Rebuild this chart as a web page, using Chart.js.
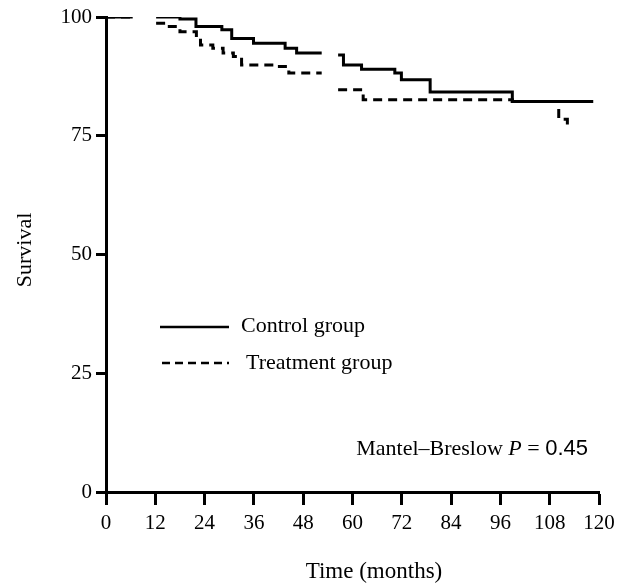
<!DOCTYPE html>
<html>
<head>
<meta charset="utf-8">
<script src="https://cdn.jsdelivr.net/npm/chart.js@4.4.1/dist/chart.umd.min.js"></script>
<style>
  html, body { margin: 0; padding: 0; background: #fff; }
  #wrap { width: 621px; height: 588px; position: relative; }
</style>
</head>
<body>
<div id="wrap"><canvas id="kmChart" width="621" height="588"></canvas></div>
<script>
// Kaplan-Meier steps (time in months, survival in %)
// null marks a break in the printed curve
const controlTimes    = [0, 6.5, 9, 12.2, 18, 21.9, 28.2, 30.6, 35.9, 43.6, 46.4, 52.5, 54, 56.5, 57.8, 62.2, 70.3, 71.9, 78.9, 98.9, 118.6];
const controlSurvival = [100, 100, null, 100, 99.6, 98, 97.3, 95.5, 94.5, 93.4, 92.4, 92.4, null, 92, 89.9, 89, 88.2, 86.8, 84.2, 82.2, 82.2];

const treatmentTimes    = [0, 6.5, 9, 12.2, 14.5, 18, 22, 23, 26, 28.5, 31, 33, 41, 44.5, 52.5, 54, 56.5, 62.6, 98.9, 110.2, 112.3];
const treatmentSurvival = [100, 100, null, 98.7, 98, 96.9, 95.5, 94.1, 93.4, 92.4, 91.7, 89.9, 89.6, 88.2, 88.2, null, 84.7, 82.6, 82.2, 78.5, 76.5];

const xTicks = [0, 12, 24, 36, 48, 60, 72, 84, 96, 108, 120];
const yTicks = [0, 25, 50, 75, 100];

const groupLabels = ['Control group', 'Treatment group'];
const xTitle = 'Time (months)';
const yTitle = 'Survival';
const testLabel = 'Mantel\u2013Breslow';
const pValue = '0.45';

const SERIF = '"Liberation Serif", "DejaVu Serif", serif';

function toPoints(times, values) {
    return times.map((t, i) => ({ x: t, y: values[i] }));
}

// axis titles, legend and test annotation
const annotations = {
    id: 'annotations',
    afterDraw(chart) {
        const ctx = chart.ctx;
        ctx.save();
        ctx.strokeStyle = '#000';
        ctx.fillStyle = '#000';
        ctx.textBaseline = 'middle';

        // axis titles
        ctx.font = '23px ' + SERIF;
        ctx.textAlign = 'center';
        ctx.fillText(xTitle, 374, 572);
        ctx.save();
        ctx.translate(25, 250);
        ctx.rotate(-Math.PI / 2);
        ctx.font = '22px ' + SERIF;
        ctx.fillText(yTitle, 0, 0);
        ctx.restore();

        // legend
        ctx.lineWidth = 2.5;
        ctx.beginPath();
        ctx.moveTo(160, 327);
        ctx.lineTo(229, 327);
        ctx.stroke();

        ctx.setLineDash([8, 5]);
        ctx.beginPath();
        ctx.moveTo(162, 363);
        ctx.lineTo(229, 363);
        ctx.stroke();
        ctx.setLineDash([]);

        ctx.font = '22px ' + SERIF;
        ctx.textAlign = 'left';
        ctx.fillText(groupLabels[0], 241, 326);
        ctx.fillText(groupLabels[1], 246, 363);

        // Mantel–Breslow P = 0.45, right-aligned
        const right = 588;
        ctx.font = '22px "Liberation Sans", sans-serif';
        const wNum = ctx.measureText(pValue).width;
        ctx.font = '22px ' + SERIF;
        const wEq = ctx.measureText(' = ').width;
        ctx.font = 'italic 22px ' + SERIF;
        const wP = ctx.measureText('P').width;
        ctx.font = '22px ' + SERIF;
        const wTest = ctx.measureText(testLabel + ' ').width;
        let x = right - wNum - wEq - wP - wTest;
        const y = 449;
        ctx.fillText(testLabel + ' ', x, y);
        x += wTest;
        ctx.font = 'italic 22px ' + SERIF;
        ctx.fillText('P', x, y);
        x += wP;
        ctx.font = '22px ' + SERIF;
        ctx.fillText(' = ', x, y);
        x += wEq;
        ctx.font = '22px "Liberation Sans", sans-serif';
        ctx.fillText(pValue, x, y);
        ctx.restore();
    }
};

const ctx = document.getElementById('kmChart').getContext('2d');
new Chart(ctx, {
    type: 'line',
    data: {
        datasets: [{
            label: groupLabels[0],
            data: toPoints(controlTimes, controlSurvival),
            borderColor: '#000',
            borderWidth: 3,
            stepped: 'before',
            pointRadius: 0,
            spanGaps: false,
            fill: false
        }, {
            label: groupLabels[1],
            data: toPoints(treatmentTimes, treatmentSurvival),
            borderColor: '#000',
            borderWidth: 3,
            borderDash: [9, 6],
            stepped: 'before',
            pointRadius: 0,
            spanGaps: false,
            fill: false
        }]
    },
    options: {
        responsive: false,
        animation: false,
        layout: { padding: { left: 0, right: 22, top: 17, bottom: 0 } },
        plugins: {
            legend: { display: false },
            tooltip: { enabled: false }
        },
        scales: {
            x: {
                type: 'linear',
                min: 0,
                max: 120,
                afterBuildTicks: (scale) => { scale.ticks = xTicks.map(v => ({ value: v })); },
                afterFit: (scale) => { scale.height = 96; },
                grid: { drawOnChartArea: false, drawTicks: true, tickLength: 13, tickWidth: 3, tickColor: '#000' },
                border: { display: true, color: '#000', width: 3 },
                ticks: { color: '#000', padding: 6, maxRotation: 0, font: { family: SERIF, size: 21 } },
                title: { display: false }
            },
            y: {
                min: 0,
                max: 100,
                afterBuildTicks: (scale) => { scale.ticks = yTicks.map(v => ({ value: v })); },
                afterFit: (scale) => { scale.width = 106; },
                grid: { drawOnChartArea: false, drawTicks: true, tickLength: 10, tickWidth: 3, tickColor: '#000' },
                border: { display: true, color: '#000', width: 3 },
                ticks: { color: '#000', padding: 4, font: { family: SERIF, size: 21 } },
                title: { display: false }
            }
        }
    },
    plugins: [annotations]
});
</script>
</body>
</html>
